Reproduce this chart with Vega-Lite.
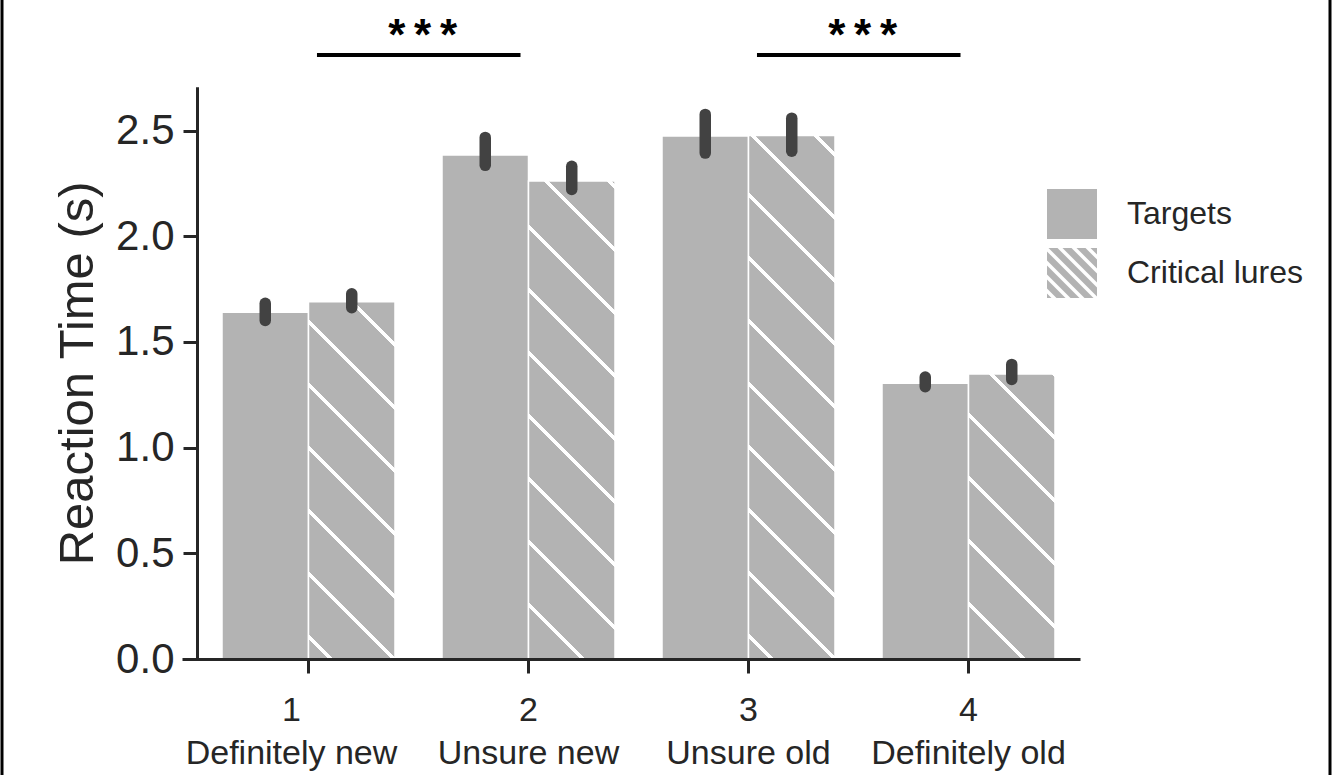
{
  "$schema": "https://vega.github.io/schema/vega-lite/v6.json",
  "width": 1328,
  "height": 800,
  "autosize": {"type": "none"},
  "padding": {"left": 2, "top": -10, "right": 7, "bottom": -15},
  "background": "white",
  "view": {"stroke": "#000000", "strokeWidth": 3},
  "config": {
    "font": "Liberation Sans",
    "axis": {"labelFont": "Liberation Sans", "titleFont": "Liberation Sans"},
    "legend": {"labelFont": "Liberation Sans"},
    "text": {"font": "Liberation Sans"}
  },
  "datasets": {
    "rt": [
      {"response": "1 Definitely new", "type": "Targets", "rt": 1.641, "lo": 1.602, "hi": 1.683},
      {"response": "1 Definitely new", "type": "Critical lures", "rt": 1.690, "lo": 1.662, "hi": 1.728},
      {"response": "2 Unsure new", "type": "Targets", "rt": 2.385, "lo": 2.336, "hi": 2.468},
      {"response": "2 Unsure new", "type": "Critical lures", "rt": 2.262, "lo": 2.222, "hi": 2.331},
      {"response": "3 Unsure old", "type": "Targets", "rt": 2.475, "lo": 2.394, "hi": 2.577},
      {"response": "3 Unsure old", "type": "Critical lures", "rt": 2.477, "lo": 2.403, "hi": 2.559},
      {"response": "4 Definitely old", "type": "Targets", "rt": 1.305, "lo": 1.288, "hi": 1.334},
      {"response": "4 Definitely old", "type": "Critical lures", "rt": 1.349, "lo": 1.323, "hi": 1.394}
    ],
    "sig": [
      {"from": "1 Definitely new", "to": "2 Unsure new", "level": 2.858, "stars": "*\u2009*\u2009*"},
      {"from": "3 Unsure old", "to": "4 Definitely old", "level": 2.858, "stars": "*\u2009*\u2009*"}
    ]
  },
  "layer": [
    {
      "data": {"name": "rt"},
      "mark": {"type": "bar", "stroke": "#ffffff", "strokeWidth": 1.5},
      "encoding": {
        "x": {
          "field": "response",
          "type": "nominal",
          "title": null,
          "scale": {"range": [180, 1078], "paddingInner": 0.21364, "paddingOuter": 0.147727, "align": 0.61538, "round": false},
          "axis": {
            "orient": "bottom",
            "offset": -131,
            "domainColor": "#262626",
            "domainWidth": 3,
            "tickColor": "#262626",
            "tickWidth": 3,
            "tickSize": 14,
            "labelFontSize": 34,
            "labelColor": "#262626",
            "labelPadding": 20,
            "labelLineHeight": 43,
            "labelAngle": 0,
            "labelLimit": 0,
            "labelOverlap": false,
            "labelOffset": {"condition": {"test": "datum.value === '1 Definitely new'", "value": -17}, "value": 0},
            "labelExpr": "[slice(datum.label, 0, 1), slice(datum.label, 2)]",
            "zindex": 1
          }
        },
        "xOffset": {
          "field": "type",
          "type": "nominal",
          "scale": {"domain": ["Targets", "Critical lures"], "paddingInner": 0, "paddingOuter": 0}
        },
        "y": {
          "field": "rt",
          "type": "quantitative",
          "title": "Reaction Time (s)",
          "scale": {"domain": [0, 2.708], "range": [669, 96.7], "nice": false, "zero": true},
          "axis": {
            "orient": "left",
            "offset": -195,
            "values": [0, 0.5, 1, 1.5, 2, 2.5],
            "format": ".1f",
            "grid": false,
            "domainColor": "#262626",
            "domainWidth": 3,
            "tickColor": "#262626",
            "tickWidth": 3,
            "tickSize": 14,
            "labelFontSize": 42,
            "labelColor": "#262626",
            "labelPadding": 9,
            "labelFlush": false,
            "titleFontSize": 49,
            "titleFontWeight": "normal",
            "titleColor": "#262626",
            "titlePadding": 13,
            "zindex": 1
          }
        },
        "fill": {
          "value": "#b3b3b3",
          "condition": [
            {
              "test": "datum.type === 'Critical lures' && datum.response === '1 Definitely new'",
              "value": {
                "gradient": "linear", "x1": 0, "y1": 1, "x2": 0.28418, "y2": -0.17338,
                "stops": [
                  {"offset": 0, "color": "#b3b3b3"},
                  {"offset": 0.045981, "color": "#b3b3b3"}, {"offset": 0.045981, "color": "#ffffff"}, {"offset": 0.055447, "color": "#ffffff"}, {"offset": 0.055447, "color": "#b3b3b3"},
                  {"offset": 0.187982, "color": "#b3b3b3"}, {"offset": 0.187982, "color": "#ffffff"}, {"offset": 0.197448, "color": "#ffffff"}, {"offset": 0.197448, "color": "#b3b3b3"},
                  {"offset": 0.329983, "color": "#b3b3b3"}, {"offset": 0.329983, "color": "#ffffff"}, {"offset": 0.339449, "color": "#ffffff"}, {"offset": 0.339449, "color": "#b3b3b3"},
                  {"offset": 0.471983, "color": "#b3b3b3"}, {"offset": 0.471983, "color": "#ffffff"}, {"offset": 0.481449, "color": "#ffffff"}, {"offset": 0.481449, "color": "#b3b3b3"},
                  {"offset": 0.613984, "color": "#b3b3b3"}, {"offset": 0.613984, "color": "#ffffff"}, {"offset": 0.62345, "color": "#ffffff"}, {"offset": 0.62345, "color": "#b3b3b3"},
                  {"offset": 0.755985, "color": "#b3b3b3"}, {"offset": 0.755985, "color": "#ffffff"}, {"offset": 0.765451, "color": "#ffffff"}, {"offset": 0.765451, "color": "#b3b3b3"},
                  {"offset": 0.897985, "color": "#b3b3b3"}, {"offset": 0.897985, "color": "#ffffff"}, {"offset": 0.907451, "color": "#ffffff"}, {"offset": 0.907451, "color": "#b3b3b3"},
                  {"offset": 1, "color": "#b3b3b3"}
                ]
              }
            },
            {
              "test": "datum.type === 'Critical lures' && datum.response === '2 Unsure new'",
              "value": {
                "gradient": "linear", "x1": 0, "y1": 1, "x2": 0.20691, "y2": -0.14349,
                "stops": [
                  {"offset": 0, "color": "#b3b3b3"},
                  {"offset": 0.092817, "color": "#b3b3b3"}, {"offset": 0.092817, "color": "#ffffff"}, {"offset": 0.100257, "color": "#ffffff"}, {"offset": 0.100257, "color": "#b3b3b3"},
                  {"offset": 0.204411, "color": "#b3b3b3"}, {"offset": 0.204411, "color": "#ffffff"}, {"offset": 0.211851, "color": "#ffffff"}, {"offset": 0.211851, "color": "#b3b3b3"},
                  {"offset": 0.316004, "color": "#b3b3b3"}, {"offset": 0.316004, "color": "#ffffff"}, {"offset": 0.323444, "color": "#ffffff"}, {"offset": 0.323444, "color": "#b3b3b3"},
                  {"offset": 0.427597, "color": "#b3b3b3"}, {"offset": 0.427597, "color": "#ffffff"}, {"offset": 0.435037, "color": "#ffffff"}, {"offset": 0.435037, "color": "#b3b3b3"},
                  {"offset": 0.53919, "color": "#b3b3b3"}, {"offset": 0.53919, "color": "#ffffff"}, {"offset": 0.54663, "color": "#ffffff"}, {"offset": 0.54663, "color": "#b3b3b3"},
                  {"offset": 0.650784, "color": "#b3b3b3"}, {"offset": 0.650784, "color": "#ffffff"}, {"offset": 0.658224, "color": "#ffffff"}, {"offset": 0.658224, "color": "#b3b3b3"},
                  {"offset": 0.762377, "color": "#b3b3b3"}, {"offset": 0.762377, "color": "#ffffff"}, {"offset": 0.769817, "color": "#ffffff"}, {"offset": 0.769817, "color": "#b3b3b3"},
                  {"offset": 0.87397, "color": "#b3b3b3"}, {"offset": 0.87397, "color": "#ffffff"}, {"offset": 0.88141, "color": "#ffffff"}, {"offset": 0.88141, "color": "#b3b3b3"},
                  {"offset": 0.985564, "color": "#b3b3b3"}, {"offset": 0.985564, "color": "#ffffff"}, {"offset": 0.993004, "color": "#ffffff"}, {"offset": 0.993004, "color": "#b3b3b3"},
                  {"offset": 1, "color": "#b3b3b3"}
                ]
              }
            },
            {
              "test": "datum.type === 'Critical lures' && datum.response === '3 Unsure old'",
              "value": {
                "gradient": "linear", "x1": 0, "y1": 1, "x2": 0.18742, "y2": -0.13425,
                "stops": [
                  {"offset": 0, "color": "#b3b3b3"},
                  {"offset": 0.035082, "color": "#b3b3b3"}, {"offset": 0.035082, "color": "#ffffff"}, {"offset": 0.041968, "color": "#ffffff"}, {"offset": 0.041968, "color": "#b3b3b3"},
                  {"offset": 0.138363, "color": "#b3b3b3"}, {"offset": 0.138363, "color": "#ffffff"}, {"offset": 0.145249, "color": "#ffffff"}, {"offset": 0.145249, "color": "#b3b3b3"},
                  {"offset": 0.241643, "color": "#b3b3b3"}, {"offset": 0.241643, "color": "#ffffff"}, {"offset": 0.248529, "color": "#ffffff"}, {"offset": 0.248529, "color": "#b3b3b3"},
                  {"offset": 0.344923, "color": "#b3b3b3"}, {"offset": 0.344923, "color": "#ffffff"}, {"offset": 0.351809, "color": "#ffffff"}, {"offset": 0.351809, "color": "#b3b3b3"},
                  {"offset": 0.448204, "color": "#b3b3b3"}, {"offset": 0.448204, "color": "#ffffff"}, {"offset": 0.45509, "color": "#ffffff"}, {"offset": 0.45509, "color": "#b3b3b3"},
                  {"offset": 0.551484, "color": "#b3b3b3"}, {"offset": 0.551484, "color": "#ffffff"}, {"offset": 0.55837, "color": "#ffffff"}, {"offset": 0.55837, "color": "#b3b3b3"},
                  {"offset": 0.654764, "color": "#b3b3b3"}, {"offset": 0.654764, "color": "#ffffff"}, {"offset": 0.66165, "color": "#ffffff"}, {"offset": 0.66165, "color": "#b3b3b3"},
                  {"offset": 0.758045, "color": "#b3b3b3"}, {"offset": 0.758045, "color": "#ffffff"}, {"offset": 0.764931, "color": "#ffffff"}, {"offset": 0.764931, "color": "#b3b3b3"},
                  {"offset": 0.861325, "color": "#b3b3b3"}, {"offset": 0.861325, "color": "#ffffff"}, {"offset": 0.868211, "color": "#ffffff"}, {"offset": 0.868211, "color": "#b3b3b3"},
                  {"offset": 0.964606, "color": "#b3b3b3"}, {"offset": 0.964606, "color": "#ffffff"}, {"offset": 0.971492, "color": "#ffffff"}, {"offset": 0.971492, "color": "#b3b3b3"},
                  {"offset": 1, "color": "#b3b3b3"}
                ]
              }
            },
            {
              "test": "datum.type === 'Critical lures' && datum.response === '4 Definitely old'",
              "value": {
                "gradient": "linear", "x1": 0, "y1": 1, "x2": 0.36212, "y2": -0.19354,
                "stops": [
                  {"offset": 0, "color": "#b3b3b3"},
                  {"offset": 0.143703, "color": "#b3b3b3"}, {"offset": 0.143703, "color": "#ffffff"}, {"offset": 0.155005, "color": "#ffffff"}, {"offset": 0.155005, "color": "#b3b3b3"},
                  {"offset": 0.313241, "color": "#b3b3b3"}, {"offset": 0.313241, "color": "#ffffff"}, {"offset": 0.324543, "color": "#ffffff"}, {"offset": 0.324543, "color": "#b3b3b3"},
                  {"offset": 0.482778, "color": "#b3b3b3"}, {"offset": 0.482778, "color": "#ffffff"}, {"offset": 0.49408, "color": "#ffffff"}, {"offset": 0.49408, "color": "#b3b3b3"},
                  {"offset": 0.652315, "color": "#b3b3b3"}, {"offset": 0.652315, "color": "#ffffff"}, {"offset": 0.663617, "color": "#ffffff"}, {"offset": 0.663617, "color": "#b3b3b3"},
                  {"offset": 0.821852, "color": "#b3b3b3"}, {"offset": 0.821852, "color": "#ffffff"}, {"offset": 0.833154, "color": "#ffffff"}, {"offset": 0.833154, "color": "#b3b3b3"},
                  {"offset": 0.991389, "color": "#b3b3b3"}, {"offset": 0.991389, "color": "#ffffff"}, {"offset": 1, "color": "#ffffff"}
                ]
              }
            }
          ]
        }
      }
    },
    {
      "data": {"name": "rt"},
      "mark": {"type": "point", "filled": true, "color": "#b3b3b3", "opacity": 0},
      "encoding": {
        "x": {"field": "response", "type": "nominal", "title": null},
        "xOffset": {"field": "type", "type": "nominal"},
        "y": {"field": "rt", "type": "quantitative", "title": "Reaction Time (s)"},
        "shape": {
          "field": "type",
          "type": "nominal",
          "scale": {
            "domain": ["Targets", "Critical lures"],
            "range": [
              "M-1,-1H1V1H-1Z",
              "M-1,1L-1,0.82L-0.82,1Z M-1,0.62L-1,0.26L-0.26,1L-0.62,1Z M-1,0.06L-1,-0.3L0.3,1L-0.06,1Z M-1,-0.5L-1,-0.86L0.86,1L0.5,1Z M-0.94,-1L-0.58,-1L1,0.58L1,0.94Z M-0.38,-1L-0.02,-1L1,0.02L1,0.38Z M0.18,-1L0.54,-1L1,-0.54L1,-0.18Z M0.74,-1L1,-1L1,-0.74Z"
            ]
          },
          "legend": {
            "title": null,
            "orient": "none",
            "legendX": 1045,
            "legendY": 199,
            "padding": 0,
            "symbolSize": 2500,
            "symbolStrokeWidth": 0,
            "symbolOpacity": 1,
            "symbolFillColor": "#b3b3b3",
            "rowPadding": 9,
            "labelOffset": 30,
            "labelFontSize": 32,
            "labelColor": "#262626",
            "labelLimit": 0
          }
        }
      }
    },
    {
      "data": {"name": "rt"},
      "mark": {"type": "rule", "stroke": "#424242", "strokeWidth": 11.5, "strokeCap": "round"},
      "encoding": {
        "x": {"field": "response", "type": "nominal", "title": null},
        "xOffset": {"field": "type", "type": "nominal"},
        "y": {"field": "lo", "type": "quantitative", "title": "Reaction Time (s)"},
        "y2": {"field": "hi"}
      }
    },
    {
      "data": {"name": "sig"},
      "mark": {"type": "rule", "stroke": "#000000", "strokeWidth": 4},
      "encoding": {
        "x": {"field": "from", "type": "nominal", "bandPosition": 0.549, "title": null},
        "x2": {"field": "to", "bandPosition": 0.4538},
        "y": {"field": "level", "type": "quantitative", "title": "Reaction Time (s)"}
      }
    },
    {
      "data": {"name": "sig"},
      "mark": {"type": "text", "fontSize": 44, "fontWeight": "bold", "color": "#000000", "align": "center", "baseline": "alphabetic", "dy": -5},
      "encoding": {
        "x": {"field": "from", "type": "nominal", "bandPosition": 1.16, "title": null},
        "y": {"field": "level", "type": "quantitative", "title": "Reaction Time (s)"},
        "text": {"field": "stars"}
      }
    }
  ]
}
